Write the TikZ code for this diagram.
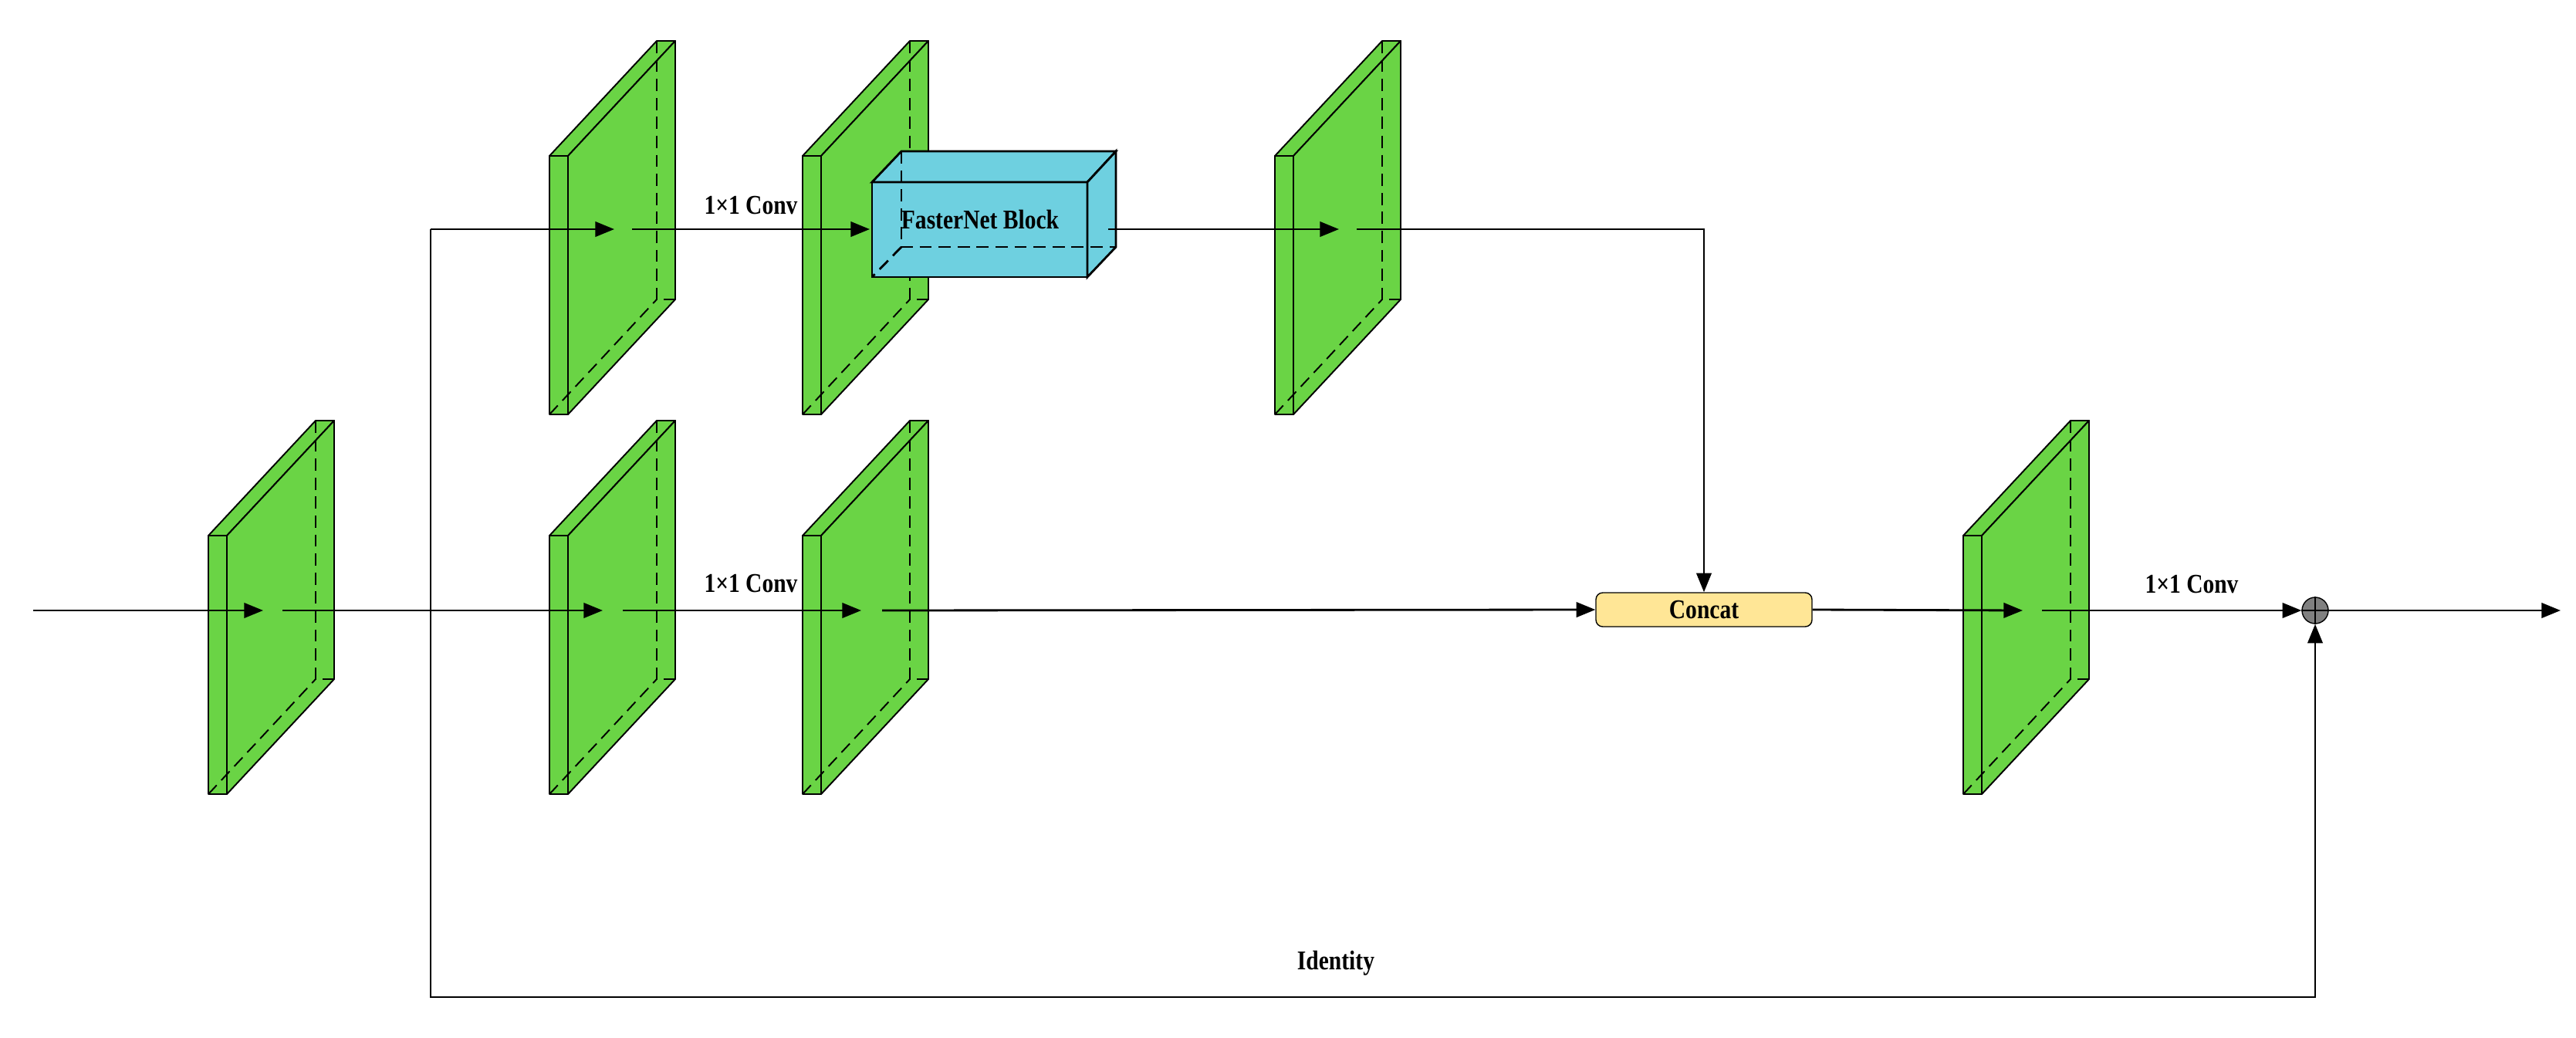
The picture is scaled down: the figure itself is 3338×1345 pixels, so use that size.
\documentclass[tikz,border=0pt]{standalone}
\usepackage{fontspec}
\setmainfont[FakeStretch=0.84]{Liberation Serif}
\usetikzlibrary{arrows.meta}
\definecolor{slabg}{RGB}{106,212,69}
\definecolor{boxb}{RGB}{110,208,224}
\definecolor{catc}{RGB}{255,230,150}
\newcommand\myslab[3]{% name, x, y (front top-left, px)
  \begin{scope}[shift={(#2,#3)}]
    \draw[slabline,fill=slabg] (0,0) rectangle (24,335);
    \draw[slabline,fill=slabg] (0,0) -- (24,0) -- (163,-149) -- (139,-149) -- cycle;
    \draw[slabline,fill=slabg] (24,0) -- (163,-149) -- (163,186) -- (24,335) -- cycle;
    \draw[slabline,dashed] (139,-149) -- (139,186) -- (163,186);
    \draw[slabline,dashed] (0,335) -- (139,186);
    \coordinate (#1) at (0,0);
  \end{scope}}
\tikzset{
  slabline/.style={line width=1.1pt,line join=round},
  dashed/.style={dash pattern=on 9pt off 5pt},
  conn/.style={line width=1.6pt},
  arr/.style={conn,-{Triangle[length=14pt,width=11pt]}},
  lbl/.style={font=\bfseries\fontsize{20}{23}\selectfont},
}
\begin{document}
\begin{tikzpicture}[x=0.02cm,y=-0.02cm]
\useasboundingbox (0,0) rectangle (3338,1345);
% slabs
\myslab{sL}{270}{694}
\myslab{sB1}{712}{694}
\myslab{sB2}{1040}{694}
\myslab{sT1}{712}{202}
\myslab{sT2}{1040}{202}
\myslab{sT3}{1652}{202}
\myslab{sR}{2544}{694}
% coordinates
\coordinate (in) at (43,791);
\coordinate (pL) at (341,791); \coordinate (qL) at (366,791);
\coordinate (br) at (558,791);
\coordinate (pB1) at (781,791); \coordinate (qB1) at (807,791);
\coordinate (pB2) at (1116,791); \coordinate (qB2) at (1143,791);
\coordinate (brT) at (558,297);
\coordinate (pT1) at (796,297); \coordinate (qT1) at (819,297);
\coordinate (pT2) at (1127,297); \coordinate (qT2) at (1436,297);
\coordinate (pT3) at (1735,297); \coordinate (qT3) at (1758,297);
\coordinate (cT) at (2208,297);
\coordinate (pR) at (2621,791); \coordinate (qR) at (2646,791);
\coordinate (brD) at (558,1292);
\coordinate (idR) at (3000,1292);
\coordinate (out) at (3318,791);
% FasterNet block
\draw[line width=1.6pt,fill=boxb] (1130,236) rectangle (1409,359);
\draw[line width=1.6pt,fill=boxb] (1130,236) -- (1168,196) -- (1446,196) -- (1409,236) -- cycle;
\draw[line width=1.6pt,fill=boxb] (1409,236) -- (1446,196) -- (1446,320) -- (1409,359) -- cycle;
\draw[line width=1.6pt,dashed] (1168,196) -- (1168,320) -- (1446,320);
\draw[line width=1.6pt,dashed] (1168,320) -- (1130,359);
\node[lbl] (fn) at (1270,284) {FasterNet Block};
% concat
\node[draw,line width=0.8pt,fill=catc,rounded corners=5pt,minimum width=280*0.02cm,minimum height=44*0.02cm,inner sep=0pt,lbl] (cat) at (2208,790) {Concat};
% plus
\node[draw,circle,fill=gray,line width=0.8pt,minimum size=34*0.02cm,inner sep=0pt] (plus) at (3000,791) {};
\draw[line width=1.4pt] (plus.north) -- (plus.south) (plus.west) -- (plus.east);
% connectors
\draw[arr] (in) -- (pL);
\draw[arr] (qL) -- (pB1);
\draw[arr] (qB1) -- (pB2);
\draw[arr] (qB2) -- (cat.west);
\draw[conn] (br) -- (brT);
\draw[arr] (brT) -- (pT1);
\draw[arr] (qT1) -- (pT2);
\draw[arr] (qT2) -- (pT3);
\draw[arr] (qT3) -- (cT) -- (cat.north);
\draw[arr] (cat.east) -- (pR);
\draw[arr] (qR) -- (plus.west);
\draw[arr] (plus.east) -- (out);
\draw[arr] (br) -- (brD) -- (idR) -- (plus.south);
% labels
\node[lbl] (l1) at (973,266) {1×1 Conv};
\node[lbl] (l2) at (973,756) {1×1 Conv};
\node[lbl] (l3) at (2840,757) {1×1 Conv};
\node[lbl] (l4) at (1731,1248) {Identity};
\end{tikzpicture}
\end{document}
